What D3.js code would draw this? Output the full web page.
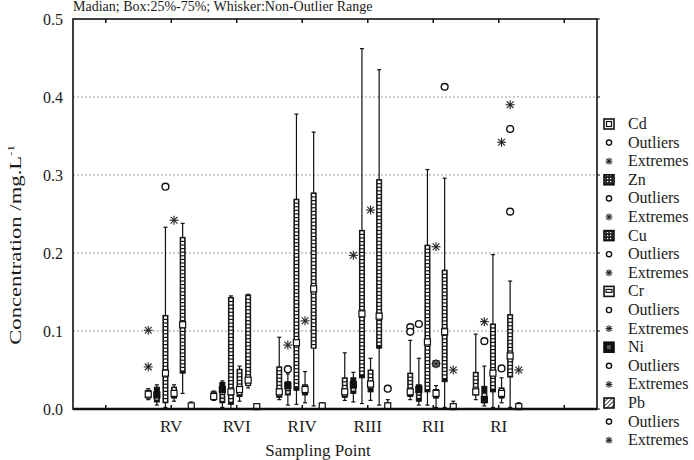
<!DOCTYPE html>
<html>
<head>
<meta charset="utf-8">
<script src="https://cdn.jsdelivr.net/npm/d3@7"></script>
<style>
  body { margin: 0; background: #fff; }
  text { font-family: "Liberation Serif", "DejaVu Serif", "Times New Roman", serif; fill: #1a1a1a; }
</style>
</head>
<body>
<script>
const points = ["RV", "RVI", "RIV", "RIII", "RII", "RI"];
const metals = ["Cd", "Zn", "Cu", "Cr", "Ni", "Pb"];

// one row per sampling point, one column per metal (mg/L)
const whiskerLow = [
  [0.012, 0.005, 0.002, 0.010, 0.020, 0.000],
  [0.011, 0.002, 0.000, 0.010, 0.027, 0.000],
  [0.012, 0.005, 0.006, 0.008, 0.004, 0.000],
  [0.011, 0.009, 0.007, 0.011, 0.005, 0.000],
  [0.012, 0.005, 0.005, 0.002, 0.002, 0.000],
  [0.012, 0.004, 0.002, 0.008, 0.002, 0.000]
];
const q1 = [
  [0.014, 0.009, 0.008, 0.014, 0.046, 0.001],
  [0.012, 0.008, 0.006, 0.016, 0.030, 0.001],
  [0.015, 0.018, 0.024, 0.018, 0.078, 0.001],
  [0.015, 0.020, 0.040, 0.022, 0.078, 0.001],
  [0.016, 0.010, 0.022, 0.014, 0.035, 0.001],
  [0.018, 0.008, 0.022, 0.014, 0.041, 0.001]
];
const median = [
  [0.019, 0.018, 0.046, 0.020, 0.108, 0.004],
  [0.016, 0.025, 0.022, 0.025, 0.037, 0.003],
  [0.022, 0.030, 0.085, 0.025, 0.154, 0.004],
  [0.022, 0.031, 0.122, 0.032, 0.119, 0.004],
  [0.022, 0.025, 0.086, 0.020, 0.099, 0.003],
  [0.022, 0.012, 0.046, 0.020, 0.068, 0.003]
];
const q3 = [
  [0.024, 0.028, 0.120, 0.028, 0.220, 0.006],
  [0.022, 0.034, 0.143, 0.051, 0.146, 0.004],
  [0.054, 0.035, 0.269, 0.031, 0.277, 0.006],
  [0.040, 0.040, 0.229, 0.050, 0.294, 0.008],
  [0.046, 0.031, 0.210, 0.025, 0.178, 0.005],
  [0.047, 0.029, 0.109, 0.027, 0.121, 0.005]
];
const whiskerHigh = [
  [0.026, 0.031, 0.233, 0.031, 0.238, 0.009],
  [0.023, 0.036, 0.145, 0.055, 0.147, 0.005],
  [0.092, 0.045, 0.378, 0.048, 0.355, 0.008],
  [0.072, 0.047, 0.462, 0.065, 0.435, 0.012],
  [0.088, 0.065, 0.307, 0.030, 0.296, 0.010],
  [0.096, 0.055, 0.198, 0.040, 0.164, 0.008]
];
// [point, metal, value]
const outliers = [
  ["RV", "Cu", 0.285],
  ["RIV", "Zn", 0.051],
  ["RIII", "Pb", 0.026],
  ["RII", "Cd", 0.105], ["RII", "Cd", 0.099], ["RII", "Zn", 0.109],
  ["RII", "Cr", 0.058], ["RII", "Ni", 0.413],
  ["RI", "Zn", 0.087], ["RI", "Cr", 0.052], ["RI", "Ni", 0.359], ["RI", "Ni", 0.253]
];
const extremes = [
  ["RV", "Cd", 0.101], ["RV", "Cd", 0.054], ["RV", "Cr", 0.242],
  ["RIV", "Zn", 0.082], ["RIV", "Cr", 0.113],
  ["RIII", "Zn", 0.197], ["RIII", "Cr", 0.255],
  ["RII", "Cr", 0.208], ["RII", "Cr", 0.058], ["RII", "Pb", 0.050],
  ["RI", "Zn", 0.112], ["RI", "Cr", 0.342], ["RI", "Ni", 0.390], ["RI", "Pb", 0.050]
];
const yTicks = [0, 0.1, 0.2, 0.3, 0.4, 0.5];

const width = 694, height = 460;
const plotL = 73, plotR = 597, plotT = 19, plotB = 409;

const svg = d3.select("body").append("svg")
    .attr("width", width).attr("height", height);

const defs = svg.append("defs");
const hatch = defs.append("pattern").attr("id", "hatch")
    .attr("width", 3).attr("height", 3).attr("patternUnits", "userSpaceOnUse")
    .attr("patternTransform", "rotate(45)");
hatch.append("rect").attr("width", 3).attr("height", 3).attr("fill", "#fff");
hatch.append("line").attr("x1", 0).attr("y1", 0).attr("x2", 0).attr("y2", 3)
    .attr("stroke", "#111").attr("stroke-width", 1.6);
const cross = defs.append("pattern").attr("id", "cross")
    .attr("width", 3).attr("height", 3).attr("patternUnits", "userSpaceOnUse");
cross.append("rect").attr("width", 3).attr("height", 3).attr("fill", "#222");
cross.append("rect").attr("x", 1).attr("y", 1).attr("width", 1.2).attr("height", 1.2).attr("fill", "#fff");

const y = d3.scaleLinear().domain([0, 0.5]).range([plotB, plotT]);
const x = d3.scalePoint().domain(points).range([plotL, plotR]).padding(1.5);
const xm = d3.scalePoint().domain(metals).range([-23, 20]);

// title
svg.append("text").attr("x", plotL).attr("y", 11)
    .style("font-size", "14px")
    .text("Madian; Box:25%-75%; Whisker:Non-Outlier Range");

// grid
svg.append("g").selectAll("line")
  .data(yTicks.filter(d => d > 0 && d < 0.5))
  .join("line")
    .attr("x1", plotL).attr("x2", plotR)
    .attr("y1", d => y(d)).attr("y2", d => y(d))
    .attr("stroke", "#9a9a9a").attr("stroke-width", 1)
    .attr("stroke-dasharray", "2,2");

// y axis labels
const yAxis = svg.append("g").attr("transform", `translate(${plotL},0)`)
    .call(d3.axisLeft(y).tickValues(yTicks).tickFormat(d3.format(".1f")).tickSize(0).tickPadding(10));
yAxis.attr("font-family", null).attr("font-size", null);
yAxis.select(".domain").remove();
yAxis.selectAll("text").style("font-size", "16px").attr("fill", "#1a1a1a");

// right axis small ticks
svg.append("g").selectAll("line").data(yTicks).join("line")
    .attr("x1", plotR).attr("x2", plotR + 3)
    .attr("y1", d => y(d)).attr("y2", d => y(d))
    .attr("stroke", "#111");

// x ticks (top and bottom) incl. empty end slots
const step = x.step();
const slotX = d3.range(-1, points.length + 1).map(i => x(points[0]) + i * step);
svg.append("g").selectAll("line").data(slotX).join("line")
    .attr("x1", d => d).attr("x2", d => d).attr("y1", plotT).attr("y2", plotT + 4)
    .attr("stroke", "#111").attr("stroke-width", 1.5);
svg.append("g").selectAll("line").data(slotX).join("line")
    .attr("x1", d => d).attr("x2", d => d).attr("y1", plotB).attr("y2", plotB - 4)
    .attr("stroke", "#111").attr("stroke-width", 1.5);

// category labels
svg.append("g").selectAll("text").data(points).join("text")
    .attr("x", d => x(d)).attr("y", 432)
    .attr("text-anchor", "middle")
    .style("font-size", "17px")
    .text(d => d);

svg.append("text").attr("x", 318).attr("y", 456)
    .attr("text-anchor", "middle").style("font-size", "17px")
    .text("Sampling Point");

const yl = svg.append("text")
    .attr("transform", "translate(21,245) rotate(-90) scale(1.42,1)")
    .attr("text-anchor", "middle").style("font-size", "16px");
yl.append("tspan").text("Concentration /mg.L");
yl.append("tspan").attr("dy", -7).style("font-size", "9px").text("-1");

// boxes
const boxW = 5;
const boxes = [];
points.forEach((p, i) => metals.forEach((m, j) => {
  boxes.push({p, m, j, lo: whiskerLow[i][j], q1: q1[i][j], med: median[i][j],
              q3: q3[i][j], hi: whiskerHigh[i][j], cx: x(p) + xm(m)});
}));

const bg = svg.append("g").selectAll("g").data(boxes).join("g");

bg.append("line")
    .attr("x1", d => d.cx).attr("x2", d => d.cx)
    .attr("y1", d => y(d.lo)).attr("y2", d => y(d.hi))
    .attr("stroke", "#111").attr("stroke-width", 1.2);
bg.append("line")
    .attr("x1", d => d.cx - 2).attr("x2", d => d.cx + 2)
    .attr("y1", d => y(d.hi)).attr("y2", d => y(d.hi))
    .attr("stroke", "#111").attr("stroke-width", 1.2);
bg.append("line")
    .attr("x1", d => d.cx - 2).attr("x2", d => d.cx + 2)
    .attr("y1", d => y(d.lo)).attr("y2", d => y(d.lo))
    .attr("stroke", "#111").attr("stroke-width", 1.2);

bg.append("rect")
    .attr("x", d => d.cx - boxW / 2).attr("width", boxW)
    .attr("y", d => y(d.q3)).attr("height", d => Math.max(1, y(d.q1) - y(d.q3)))
    .attr("fill", d => d.m === "Pb" ? "#fff" : "#111")
    .attr("stroke", "#111").attr("stroke-width", 1);

// column of small white cells inside the patterned boxes
bg.filter(d => d.m !== "Zn" && d.m !== "Pb").each(function(d) {
  const top0 = y(d.q3) + 1, bot0 = y(d.q1) - 1;
  const cells = d3.range(top0, bot0 - 2, 3.6);
  d3.select(this).selectAll(".cell").data(cells).join("rect")
      .attr("class", "cell")
      .attr("x", d.cx - 1.5).attr("y", c => c)
      .attr("width", 3).attr("height", 2.4)
      .attr("fill", "#fff");
});
bg.filter(d => d.m === "Zn").each(function(d) {
  const bot0 = y(d.q1) - 1;
  const mid = y(d.q3) + (y(d.q1) - y(d.q3)) * 0.45;
  const cells = d3.range(mid, bot0 - 2, 3.6);
  d3.select(this).selectAll(".cell").data(cells).join("rect")
      .attr("class", "cell")
      .attr("x", d.cx - 1.5).attr("y", c => c)
      .attr("width", 3).attr("height", 2.2)
      .attr("fill", "#ddd");
});

// median markers
bg.append("rect")
    .attr("x", d => d.cx - 3).attr("y", d => y(d.med) - 3)
    .attr("width", 6).attr("height", 6)
    .attr("fill", d => d.m === "Zn" ? "#111" : "#fff")
    .attr("stroke", "#111").attr("stroke-width", 1.2);

// outliers and extremes
const pos = (p, m) => x(p) + xm(m);
svg.append("g").selectAll("circle").data(outliers).join("circle")
    .attr("cx", d => pos(d[0], d[1])).attr("cy", d => y(d[2]))
    .attr("r", 3.4).attr("fill", "#fff").attr("stroke", "#111").attr("stroke-width", 1.4);

function star(g, cx, cy, s) {
  [[-s, 0, s, 0], [0, -s, 0, s], [-s * 0.75, -s * 0.75, s * 0.75, s * 0.75], [-s * 0.75, s * 0.75, s * 0.75, -s * 0.75]]
    .forEach(l => g.append("line")
      .attr("x1", cx + l[0]).attr("y1", cy + l[1]).attr("x2", cx + l[2]).attr("y2", cy + l[3])
      .attr("stroke", "#222").attr("stroke-width", 1.1));
}
const eg = svg.append("g");
extremes.forEach(d => star(eg, pos(d[0], d[1]), y(d[2]), 4.5));

// frame
svg.append("rect").attr("x", plotL).attr("y", plotT)
    .attr("width", plotR - plotL).attr("height", plotB - plotT)
    .attr("fill", "none").attr("stroke", "#111").attr("stroke-width", 1.6);
svg.append("line").attr("x1", plotL).attr("x2", plotR).attr("y1", plotB).attr("y2", plotB)
    .attr("stroke", "#111").attr("stroke-width", 2.4);

// legend
const legendFill = {Cd: "#fff", Zn: "url(#cross)", Cu: "url(#cross)", Cr: "#fff", Ni: "#111", Pb: "url(#hatch)"};
const lg = svg.append("g");
metals.forEach((m, k) => {
  const y0 = 124 + k * 3 * 18.6;
  lg.append("rect").attr("x", 604).attr("y", y0 - 5).attr("width", 10).attr("height", 10)
      .attr("fill", legendFill[m]).attr("stroke", "#111").attr("stroke-width", 1.6);
  if (m === "Cd") lg.append("rect").attr("x", 606.5).attr("y", y0 - 2.5).attr("width", 5).attr("height", 5)
      .attr("fill", "none").attr("stroke", "#111").attr("stroke-width", 1.2);
  if (m === "Cr") lg.append("rect").attr("x", 606).attr("y", y0 - 2).attr("width", 6).attr("height", 3)
      .attr("fill", "none").attr("stroke", "#111").attr("stroke-width", 1.2);
  if (m === "Ni") lg.append("rect").attr("x", 607).attr("y", y0 - 2).attr("width", 4).attr("height", 4)
      .attr("fill", "#555");
  lg.append("text").attr("x", 628).attr("y", y0 + 5).style("font-size", "16px").text(m);
  lg.append("circle").attr("cx", 609).attr("cy", y0 + 18.6).attr("r", 2.6)
      .attr("fill", "#fff").attr("stroke", "#111").attr("stroke-width", 1.4);
  lg.append("text").attr("x", 628).attr("y", y0 + 18.6 + 5).style("font-size", "16px").text("Outliers");
  star(lg, 609, y0 + 37.2, 3.4);
  lg.append("text").attr("x", 628).attr("y", y0 + 37.2 + 5).style("font-size", "16px").text("Extremes");
});
</script>
</body>
</html>
